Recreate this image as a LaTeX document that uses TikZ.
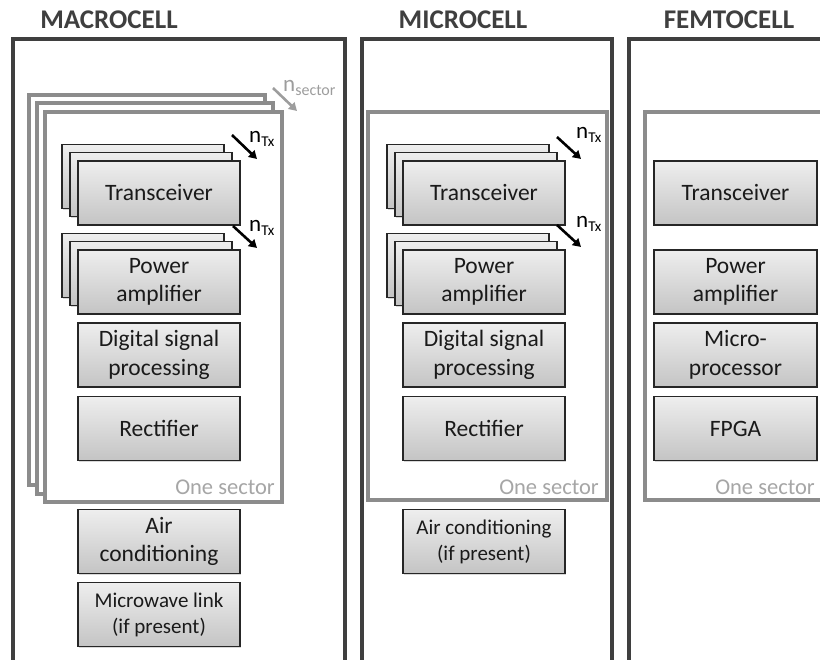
\documentclass[tikz,border=0pt]{standalone}
\usepackage{fontspec}
\setmainfont{Carlito}
\usetikzlibrary{arrows.meta,shadows}

\definecolor{cellgray}{HTML}{3F3F3F}
\definecolor{sectgray}{HTML}{8C8C8C}
\definecolor{boxedge}{HTML}{262626}
\definecolor{boxtop}{HTML}{EEEEEE}
\definecolor{boxbot}{HTML}{C4C4C4}
\definecolor{notegray}{HTML}{A6A6A6}
\definecolor{txtdark}{HTML}{1A1A1A}

\tikzset{
  cellframe/.style={draw=cellgray, line width=3.4pt},
  celltitle/.style={font=\fontsize{27}{27}\selectfont\bfseries, text=cellgray, inner sep=0pt},
  sectorframe/.style={draw=sectgray, line width=3.2pt, fill=white,
    drop shadow={shadow xshift=1.5pt, shadow yshift=-1.5pt, opacity=0.35}},
  unit/.style={draw=boxedge, line width=1.2pt, top color=boxtop, bottom color=boxbot,
    minimum width=162pt, minimum height=64pt, inner sep=0pt, align=center,
    text=txtdark, font=\fontsize{23.5}{28.5}\selectfont,
    drop shadow={shadow xshift=1.2pt, shadow yshift=-1.5pt, opacity=0.3}},
  smalltext/.style={font=\fontsize{21}{26}\selectfont},
  sectornote/.style={anchor=east, inner sep=0pt, text=notegray, font=\fontsize{22.5}{22.5}\selectfont},
  txarrow/.style={line width=2.6pt, black, -{Triangle[length=8pt,width=9pt]}},
  secarrow/.style={line width=2.6pt, sectgray!85, -{Triangle[length=8pt,width=9pt]}},
  countlabel/.style={anchor=base west, inner sep=0pt}
}

\newcommand{\nTx}{{\fontsize{23}{23}\selectfont n}\raisebox{-4pt}{\fontsize{15}{15}\selectfont Tx}}
\newcommand{\nSector}{{\fontsize{23}{23}\selectfont n}\raisebox{-4pt}{\fontsize{16}{16}\selectfont sector}}

\begin{document}
\begin{tikzpicture}[x=1pt,y=-1pt]
\useasboundingbox (0,0) rectangle (820,660);
\clip (0,0) rectangle (820,660);

% ---------------- cell frames and titles ----------------
\draw[cellframe] (13,720) -- (13,39) -- (345,39) -- (345,720);
\draw[cellframe] (362,720) -- (362,39) -- (612,39) -- (612,720);
\draw[cellframe] (629,720) -- (629,39) -- (860,39);

\node[celltitle] (tmacro) at (109,20) {MACROCELL};
\node[celltitle] (tmicro) at (463,20) {MICROCELL};
\node[celltitle] (tfemto) at (729,20) {FEMTOCELL};

% ---------------- macrocell ----------------
% stacked sectors
\draw[sectorframe] (29,95) rectangle (265,485);
\draw[sectorframe] (37,103) rectangle (273,494);
\draw[sectorframe] (45,112) rectangle (282,502);

\coordinate (mSec0) at (273,88);
\coordinate (mSec1) at (297,111);
\draw[secarrow] (mSec0) -- (mSec1);
\node[countlabel, text=sectgray!85] (mSecLbl) at (283,92) {\nSector};

% transceiver stack
\node[unit] (mTrC) at (143,176.5) {};
\node[unit] (mTrB) at (151,184.5) {};
\node[unit] (mTr) at (159,193) {Transceiver};
% power amplifier stack
\node[unit] (mPaC) at (143,265.5) {};
\node[unit] (mPaB) at (151,273.5) {};
\node[unit] (mPa) at (159,282) {Power\\amplifier};
\node[unit] (mDsp) at (159,355) {Digital signal\\processing};
\node[unit] (mRec) at (159,428.5) {Rectifier};
\node[sectornote] (mNote) at (275,487) {One sector};

\node[unit] (mAir) at (159,541.5) {Air\\conditioning};
\node[unit, smalltext] (mMw) at (159,614.5) {Microwave link\\(if present)};

\coordinate (mTxA0) at (232,135);
\coordinate (mTxA1) at (257,159);
\draw[txarrow] (mTxA0) -- (mTxA1);
\node[countlabel] (mTxLblA) at (249,143) {\nTx};
\coordinate (mTxB0) at (233,226);
\coordinate (mTxB1) at (257,248);
\draw[txarrow] (mTxB0) -- (mTxB1);
\node[countlabel] (mTxLblB) at (249,232) {\nTx};

% ---------------- microcell ----------------
\draw[sectorframe] (368,112) rectangle (607,500);

\node[unit] (uTrC) at (468,176.5) {};
\node[unit] (uTrB) at (476,184.5) {};
\node[unit] (uTr) at (484,193) {Transceiver};
\node[unit] (uPaC) at (468,265.5) {};
\node[unit] (uPaB) at (476,273.5) {};
\node[unit] (uPa) at (484,282) {Power\\amplifier};
\node[unit] (uDsp) at (484,355) {Digital signal\\processing};
\node[unit] (uRec) at (484,428.5) {Rectifier};
\node[sectornote] (uNote) at (599,487) {One sector};

\node[unit, smalltext] (uAir) at (484,541.5) {Air conditioning\\(if present)};

\coordinate (uTxA0) at (557,137);
\coordinate (uTxA1) at (581,159);
\draw[txarrow] (uTxA0) -- (uTxA1);
\node[countlabel] (uTxLblA) at (576,139) {\nTx};
\coordinate (uTxB0) at (557,225);
\coordinate (uTxB1) at (581,247);
\draw[txarrow] (uTxB0) -- (uTxB1);
\node[countlabel] (uTxLblB) at (576,228) {\nTx};

% ---------------- femtocell ----------------
\draw[sectorframe] (645,112) rectangle (860,500);

\node[unit, minimum width=163pt] (fTr) at (735.5,193) {Transceiver};
\node[unit, minimum width=163pt] (fPa) at (735.5,282) {Power\\amplifier};
\node[unit, minimum width=163pt] (fMp) at (735.5,355) {Micro-\\processor};
\node[unit, minimum width=163pt] (fFpga) at (735.5,428.5) {FPGA};
\node[sectornote] (fNote) at (815,487) {One sector};

\end{tikzpicture}
\end{document}
